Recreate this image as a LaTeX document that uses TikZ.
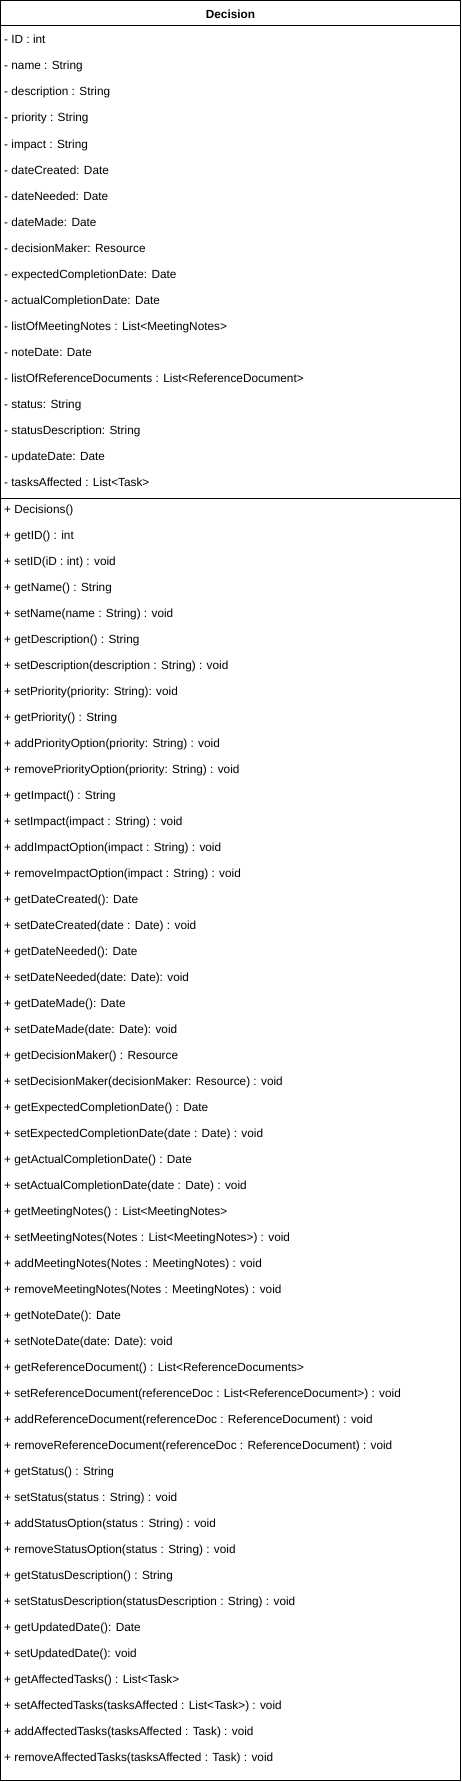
\documentclass[tikz,border=0pt]{standalone}
\usepackage{fontspec}
\setmainfont{Liberation Sans}
\begin{document}
\begin{tikzpicture}[x=1pt,y=-1pt,
  member/.style={anchor=base west, inner sep=0pt, font=\fontsize{11.8}{14}\selectfont},
  classbox/.style={draw, line width=1pt, inner sep=0pt, minimum width=459.25pt, minimum height=1779.75pt}]
\useasboundingbox (0,0) rectangle (461,1782);

\node[classbox] (decision) at (230.4,890.6) {};
\node[font=\fontsize{11.8}{14}\selectfont\bfseries] (title) at (230.5,14.5) {Decision};
\draw[line width=1pt] (decision.west |- 0,26) -- (decision.east |- 0,26);
\draw[line width=1pt] (decision.west |- 0,498) -- (decision.east |- 0,498);

% attributes
\node[member] (a1) at (4,44) {- ID : int};
\node[member] (a2) at (4,70) {- name : String};
\node[member] (a3) at (4,96) {- description : String};
\node[member] (a4) at (4,122) {- priority : String};
\node[member] (a5) at (4,148) {- impact : String};
\node[member] (a6) at (4,174) {- dateCreated: Date};
\node[member] (a7) at (4,200) {- dateNeeded: Date};
\node[member] (a8) at (4,226) {- dateMade: Date};
\node[member] (a9) at (4,252) {- decisionMaker: Resource};
\node[member] (a10) at (4,278) {- expectedCompletionDate: Date};
\node[member] (a11) at (4,304) {- actualCompletionDate: Date};
\node[member] (a12) at (4,330) {- listOfMeetingNotes : List<MeetingNotes>};
\node[member] (a13) at (4,356) {- noteDate: Date};
\node[member] (a14) at (4,382) {- listOfReferenceDocuments : List<ReferenceDocument>};
\node[member] (a15) at (4,408) {- status: String};
\node[member] (a16) at (4,434) {- statusDescription: String};
\node[member] (a17) at (4,460) {- updateDate: Date};
\node[member] (a18) at (4,486) {- tasksAffected : List<Task>};

% methods
\node[member] (m1) at (4,513) {+ Decisions()};
\node[member] (m2) at (4,539) {+ getID() : int};
\node[member] (m3) at (4,565) {+ setID(iD : int) : void};
\node[member] (m4) at (4,591) {+ getName() : String};
\node[member] (m5) at (4,617) {+ setName(name : String) : void};
\node[member] (m6) at (4,643) {+ getDescription() : String};
\node[member] (m7) at (4,669) {+ setDescription(description : String) : void};
\node[member] (m8) at (4,695) {+ setPriority(priority: String): void};
\node[member] (m9) at (4,721) {+ getPriority() : String};
\node[member] (m10) at (4,747) {+ addPriorityOption(priority: String) : void};
\node[member] (m11) at (4,773) {+ removePriorityOption(priority: String) : void};
\node[member] (m12) at (4,799) {+ getImpact() : String};
\node[member] (m13) at (4,825) {+ setImpact(impact : String) : void};
\node[member] (m14) at (4,851) {+ addImpactOption(impact : String) : void};
\node[member] (m15) at (4,877) {+ removeImpactOption(impact : String) : void};
\node[member] (m16) at (4,903) {+ getDateCreated(): Date};
\node[member] (m17) at (4,929) {+ setDateCreated(date : Date) : void};
\node[member] (m18) at (4,955) {+ getDateNeeded(): Date};
\node[member] (m19) at (4,981) {+ setDateNeeded(date: Date): void};
\node[member] (m20) at (4,1007) {+ getDateMade(): Date};
\node[member] (m21) at (4,1033) {+ setDateMade(date: Date): void};
\node[member] (m22) at (4,1059) {+ getDecisionMaker() : Resource};
\node[member] (m23) at (4,1085) {+ setDecisionMaker(decisionMaker: Resource) : void};
\node[member] (m24) at (4,1111) {+ getExpectedCompletionDate() : Date};
\node[member] (m25) at (4,1137) {+ setExpectedCompletionDate(date : Date) : void};
\node[member] (m26) at (4,1163) {+ getActualCompletionDate() : Date};
\node[member] (m27) at (4,1189) {+ setActualCompletionDate(date : Date) : void};
\node[member] (m28) at (4,1215) {+ getMeetingNotes() : List<MeetingNotes>};
\node[member] (m29) at (4,1241) {+ setMeetingNotes(Notes : List<MeetingNotes>) : void};
\node[member] (m30) at (4,1267) {+ addMeetingNotes(Notes : MeetingNotes) : void};
\node[member] (m31) at (4,1293) {+ removeMeetingNotes(Notes : MeetingNotes) : void};
\node[member] (m32) at (4,1319) {+ getNoteDate(): Date};
\node[member] (m33) at (4,1345) {+ setNoteDate(date: Date): void};
\node[member] (m34) at (4,1371) {+ getReferenceDocument() : List<ReferenceDocuments>};
\node[member] (m35) at (4,1397) {+ setReferenceDocument(referenceDoc : List<ReferenceDocument>) : void};
\node[member] (m36) at (4,1423) {+ addReferenceDocument(referenceDoc : ReferenceDocument) : void};
\node[member] (m37) at (4,1449) {+ removeReferenceDocument(referenceDoc : ReferenceDocument) : void};
\node[member] (m38) at (4,1475) {+ getStatus() : String};
\node[member] (m39) at (4,1501) {+ setStatus(status : String) : void};
\node[member] (m40) at (4,1527) {+ addStatusOption(status : String) : void};
\node[member] (m41) at (4,1553) {+ removeStatusOption(status : String) : void};
\node[member] (m42) at (4,1579) {+ getStatusDescription() : String};
\node[member] (m43) at (4,1605) {+ setStatusDescription(statusDescription : String) : void};
\node[member] (m44) at (4,1631) {+ getUpdatedDate(): Date};
\node[member] (m45) at (4,1657) {+ setUpdatedDate(): void};
\node[member] (m46) at (4,1683) {+ getAffectedTasks() : List<Task>};
\node[member] (m47) at (4,1709) {+ setAffectedTasks(tasksAffected : List<Task>) : void};
\node[member] (m48) at (4,1735) {+ addAffectedTasks(tasksAffected : Task) : void};
\node[member] (m49) at (4,1761) {+ removeAffectedTasks(tasksAffected : Task) : void};
\end{tikzpicture}
\end{document}
